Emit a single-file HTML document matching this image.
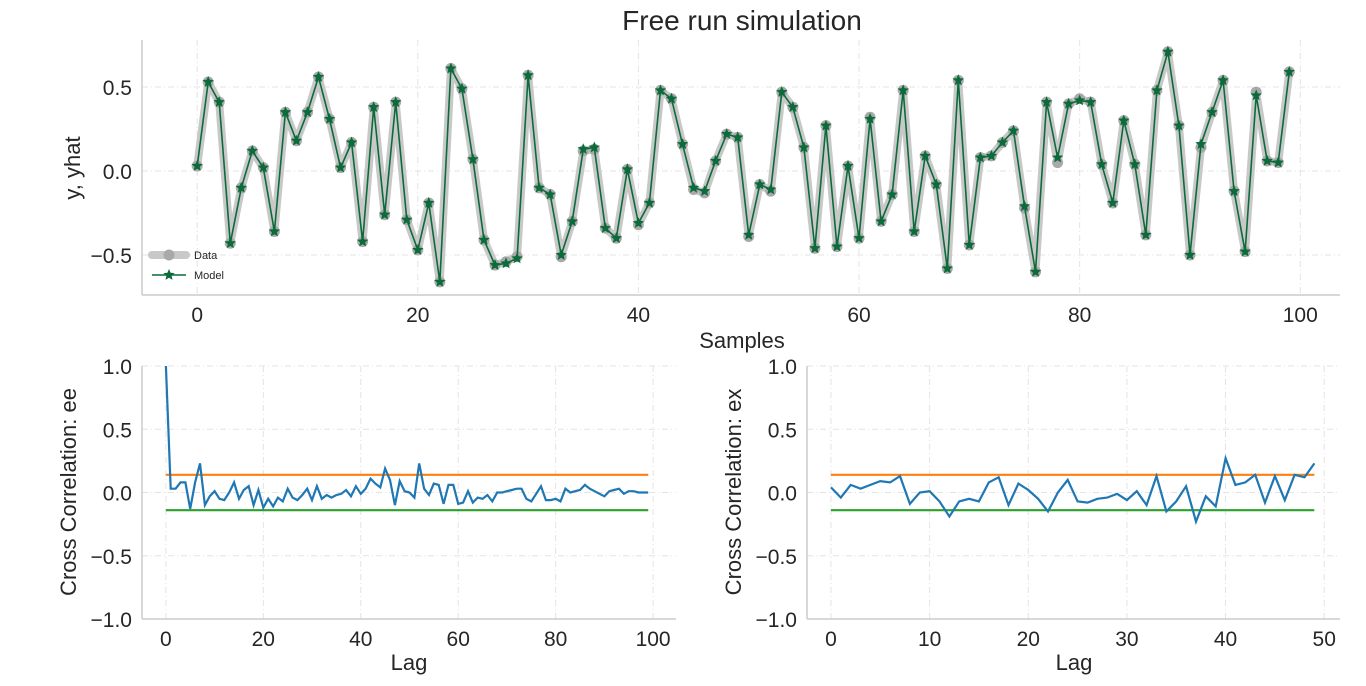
<!DOCTYPE html>
<html><head><meta charset="utf-8"><style>
body{margin:0;background:#fff;font-family:"Liberation Sans",sans-serif;}
svg text{font-family:"Liberation Sans",sans-serif;fill:#262626;}
</style></head><body>
<svg id="s" width="1366" height="681" xmlns="http://www.w3.org/2000/svg">
<text x="742" y="30" font-size="28" text-anchor="middle">Free run simulation</text>
<text x="742" y="348" font-size="22" text-anchor="middle">Samples</text>
<text transform="translate(80,168) rotate(-90)" font-size="22" text-anchor="middle">y, yhat</text>
<text x="409" y="670" font-size="22" text-anchor="middle">Lag</text>
<text transform="translate(76,492) rotate(-90)" font-size="22" text-anchor="middle">Cross Correlation: ee</text>
<text x="1074" y="670" font-size="22" text-anchor="middle">Lag</text>
<text transform="translate(741,492) rotate(-90)" font-size="22" text-anchor="middle">Cross Correlation: ex</text>
</svg>
<script>
const modelY=[0.03,0.53,0.41,-0.43,-0.10,0.12,0.02,-0.36,0.35,0.18,0.35,0.56,0.31,0.02,0.17,-0.42,0.38,-0.26,0.41,-0.29,-0.47,-0.19,-0.66,0.61,0.49,0.07,-0.41,-0.56,-0.55,-0.52,0.57,-0.10,-0.14,-0.50,-0.30,0.13,0.14,-0.34,-0.40,0.01,-0.31,-0.19,0.48,0.43,0.16,-0.10,-0.12,0.06,0.22,0.20,-0.38,-0.08,-0.11,0.47,0.38,0.14,-0.46,0.27,-0.45,0.03,-0.40,0.31,-0.30,-0.14,0.48,-0.36,0.09,-0.08,-0.58,0.54,-0.44,0.08,0.09,0.17,0.24,-0.21,-0.60,0.41,0.08,0.40,0.42,0.41,0.04,-0.19,0.30,0.04,-0.38,0.48,0.71,0.27,-0.50,0.16,0.35,0.54,-0.12,-0.48,0.45,0.06,0.05,0.59];
const dataY=[0.03,0.53,0.41,-0.43,-0.10,0.12,0.02,-0.36,0.35,0.18,0.35,0.56,0.31,0.02,0.17,-0.42,0.38,-0.26,0.41,-0.29,-0.47,-0.19,-0.66,0.61,0.49,0.07,-0.41,-0.56,-0.54,-0.51,0.57,-0.10,-0.14,-0.51,-0.30,0.12,0.13,-0.34,-0.40,0.01,-0.32,-0.19,0.48,0.43,0.16,-0.11,-0.13,0.06,0.22,0.20,-0.39,-0.08,-0.12,0.47,0.38,0.14,-0.46,0.27,-0.45,0.03,-0.40,0.32,-0.30,-0.14,0.48,-0.36,0.09,-0.08,-0.58,0.54,-0.44,0.08,0.09,0.17,0.24,-0.22,-0.60,0.41,0.05,0.40,0.43,0.41,0.04,-0.19,0.30,0.04,-0.38,0.48,0.71,0.27,-0.50,0.14,0.35,0.54,-0.12,-0.48,0.47,0.06,0.05,0.59];
const eeVals=[1.0,0.03,0.03,0.08,0.08,-0.13,0.08,0.23,-0.10,-0.03,0.01,-0.05,-0.06,0,0.08,-0.05,0.02,0.05,-0.10,0.02,-0.12,-0.05,-0.11,-0.04,-0.07,0.03,-0.04,-0.06,-0.02,0.03,-0.06,0.05,-0.05,-0.02,-0.04,-0.02,-0.01,0.02,-0.03,0.05,-0.01,0.03,0.11,0.07,0.04,0.19,0.10,-0.10,0.09,0.01,0,-0.04,0.23,0.03,-0.02,0.07,0.06,-0.09,0.06,0.06,-0.09,-0.08,0.01,-0.08,-0.04,-0.05,-0.02,-0.07,0,0,0.01,0.02,0.03,0.03,-0.05,-0.07,-0.01,0.05,-0.06,-0.06,-0.05,-0.07,0.03,0,0.01,0.02,0.06,0.03,0.01,-0.01,-0.03,0.01,0.02,0.03,-0.01,0.01,0.01,0,0,0];
const exVals=[0.04,-0.04,0.06,0.03,0.06,0.09,0.08,0.13,-0.09,0,0.01,-0.07,-0.19,-0.07,-0.05,-0.07,0.08,0.12,-0.10,0.07,0.02,-0.05,-0.15,0,0.10,-0.07,-0.08,-0.05,-0.04,-0.01,-0.06,0.01,-0.10,0.13,-0.15,-0.07,0.05,-0.23,-0.03,-0.11,0.27,0.06,0.08,0.14,-0.08,0.13,-0.06,0.14,0.12,0.23];
const confLevel=[0.14,-0.14];
const topXTicks=[0,20,40,60,80,100];
const topYTicks=[-0.5,0.0,0.5];
const eeXTicks=[0,20,40,60,80,100];
const exXTicks=[0,10,20,30,40,50];
const corrYTicks=[-1.0,-0.5,0.0,0.5,1.0];

const svg=document.getElementById('s');
const NS='http://www.w3.org/2000/svg';
function mk(tag,attrs,parent){const e=document.createElementNS(NS,tag);for(const k in attrs)e.setAttribute(k,attrs[k]);(parent||svg).appendChild(e);return e;}
function lin(d0,d1,r0,r1){return v=>r0+(v-d0)*(r1-r0)/(d1-d0);}
function fmt(v){let s=v.toFixed(1);return s.replace('-','\u2212');}
function fmtI(v){return String(v);}

function axes(name,box,xd,yd,xt,yt){
  const x=lin(xd[0],xd[1],box.l,box.r), y=lin(yd[0],yd[1],box.b,box.t);
  const g=mk('g',{});
  
  
  xt.forEach(v=>{const l=mk('line',{x1:x(v),x2:x(v),y1:box.t,y2:box.b,stroke:'#e3e3e3','stroke-dasharray':'6,3,1,3','stroke-width':1},g);
    
    const t=mk('text',{x:x(v),y:box.b+27,'font-size':21,'text-anchor':'middle'},g);t.textContent=fmtI(v);
    });
  yt.forEach(v=>{const l=mk('line',{x1:box.l,x2:box.r,y1:y(v),y2:y(v),stroke:'#e3e3e3','stroke-dasharray':'6,3,1,3','stroke-width':1},g);
    
    const t=mk('text',{x:box.l-10,y:y(v)+8,'font-size':21,'text-anchor':'end'},g);t.textContent=fmt(v);
    });
  const s1=mk('line',{x1:box.l,x2:box.l,y1:box.t,y2:box.b,stroke:'#cccccc','stroke-width':1.5},g);
  
  const s2=mk('line',{x1:box.l,x2:box.r,y1:box.b,y2:box.b,stroke:'#cccccc','stroke-width':1.5},g);
  
  return {x,y};
}
function path(vals,x,y){return vals.map((v,i)=>(i?'L':'M')+x(i).toFixed(1)+','+y(v).toFixed(1)).join('');}
function star(cx,cy,r){let p=[];for(let i=0;i<10;i++){const a=-Math.PI/2+i*Math.PI/5,rr=i%2?r*0.45:r;p.push((cx+rr*Math.cos(a)).toFixed(1)+','+(cy+rr*Math.sin(a)).toFixed(1));}return p.join(' ');}

// top
const T=axes('top',{l:142,r:1340,t:40,b:295},[-5,103.6],[-0.738,0.78],topXTicks,topYTicks);
const dl=mk('path',{d:path(dataY,T.x,T.y),fill:'none',stroke:'#c8c8c8','stroke-width':8,'stroke-linejoin':'round'});

dataY.forEach((v,i)=>{const c=mk('circle',{cx:T.x(i),cy:T.y(v),r:5.5,fill:'#a9a9a9'});
  });
const ml=mk('path',{d:path(modelY,T.x,T.y),fill:'none',stroke:'#0b6b3a','stroke-width':1.6});

modelY.forEach((v,i)=>{const p=mk('polygon',{points:star(T.x(i),T.y(v),6),fill:'#0b6b3a'});
  });
// legend
const lg=mk('g',{});

mk('line',{x1:152,x2:186,y1:255,y2:255,stroke:'#c8c8c8','stroke-width':8,'stroke-linecap':'round'},lg);
mk('circle',{cx:169,cy:255,r:5.5,fill:'#a9a9a9'},lg);
const t1=mk('text',{x:194,y:259,'font-size':11},lg);t1.textContent='Data';

mk('line',{x1:152,x2:186,y1:275,y2:275,stroke:'#0b6b3a','stroke-width':1.6},lg);
mk('polygon',{points:star(169,275,6),fill:'#0b6b3a'},lg);
const t2=mk('text',{x:194,y:279,'font-size':11},lg);t2.textContent='Model';


function corr(name,box,xd,xt,vals){
  const A=axes(name,box,xd,[-1,1],xt,corrYTicks);
  const n=vals.length-1;
  const up=mk('line',{x1:A.x(0),x2:A.x(n),y1:A.y(confLevel[0]),y2:A.y(confLevel[0]),stroke:'#ff7f0e','stroke-width':2.2});
  
  const lo=mk('line',{x1:A.x(0),x2:A.x(n),y1:A.y(confLevel[1]),y2:A.y(confLevel[1]),stroke:'#2ca02c','stroke-width':2.2});
  
  const p=mk('path',{d:path(vals,A.x,A.y),fill:'none',stroke:'#1f77b4','stroke-width':2.2});
  
}
corr('ee',{l:142,r:676,t:366,b:619},[-4.9,104.7],eeXTicks,eeVals);
corr('ex',{l:807,r:1340,t:366,b:619},[-2.43,51.6],exXTicks,exVals);
</script>
</body></html>
